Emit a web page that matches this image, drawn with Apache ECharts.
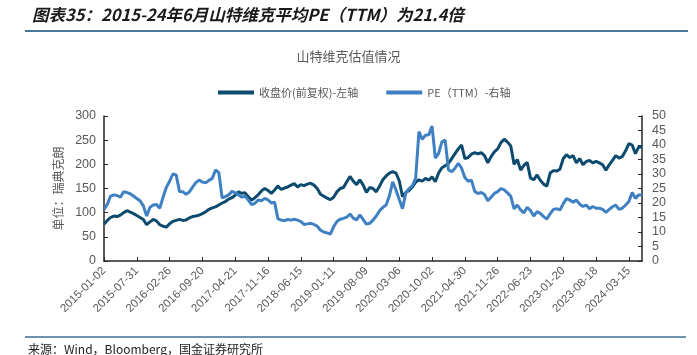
<!DOCTYPE html>
<html>
<head>
<meta charset="utf-8">
<script src="https://cdn.jsdelivr.net/npm/echarts@6/dist/echarts.min.js"></script>
<style>
html,body{margin:0;padding:0;background:#fff;}
#c{width:697px;height:355px;}
</style>
</head>
<body>
<div id="c"></div>
<script>
// Tick labels shown on the x axis (every 10th category, 3-week spacing)
const tickLabels = ['2015-01-02','2015-07-31','2016-02-26','2016-09-20','2017-04-21','2017-11-16','2018-06-15','2019-01-11','2019-08-09','2020-03-06','2020-10-02','2021-04-30','2021-11-26','2022-06-23','2023-01-20','2023-08-18','2024-03-15'];
const extraTail = 4; // points after the last tick label

// 收盘价(前复权) (SEK), left axis
const price = [
  76, 84, 90, 93, 92, 95, 100, 104, 101, 98, 94,
  90, 86, 75, 81, 86, 83, 75, 72, 70, 77,
  82, 84, 86, 84, 85, 89, 92, 93, 95, 98,
  102, 107, 110, 112, 116, 120, 123, 128, 131, 136,
  143, 140, 141, 133, 126, 131, 137, 145, 150, 146,
  140, 147, 155, 148, 151, 153, 157, 160, 153, 158,
  156, 159, 161, 157, 150, 138, 134, 130, 127, 132,
  143, 150, 152, 164, 175, 165, 158, 168, 157, 142,
  152, 150, 143, 155, 168, 176, 182, 185, 182, 166,
  133, 142, 146, 153, 163, 168, 165, 171, 167, 174,
  164, 182, 193, 197, 202, 212, 222, 232, 240, 212,
  214, 221, 224, 222, 224, 218, 203, 216, 226, 232,
  245, 252, 246, 238, 200, 210, 188, 198, 204, 172,
  168, 178, 167, 159, 155, 182, 187, 186, 190, 212,
  220, 214, 218, 203, 212, 199, 206, 208, 203, 206,
  203, 199, 188, 199, 208, 218, 213, 216, 228, 243,
  240, 222, 236, 236
];

// PE (TTM), right axis
const pe = [
  17.8, 19.5, 22.4, 22.8, 22.6, 22, 23.9, 23.6, 23.2, 22.4, 21.5,
  20.8, 19, 15.5, 18.5, 19.3, 19.5, 18.2, 22, 25.4, 27.5,
  30, 29.7, 24, 23.9, 23, 23.8, 25.5, 27, 27.9, 27.2,
  27, 27.8, 28.5, 31.4, 30.5, 21.8, 22.2, 22.8, 24, 23.5,
  22.8, 22, 22.4, 21, 19.4, 19.9, 21, 20.8, 21.6, 21.1,
  20, 20.3, 14.6, 14.1, 13.9, 14.3, 14.1, 14.4, 14.1, 13.6,
  12.6, 12.8, 13, 12.6, 12, 10.6, 10, 9.7, 9.3, 11.8,
  13.6, 14.4, 14.7, 15.1, 16.2, 14.8, 14.2, 15.9, 14.3, 12.7,
  13, 14.1, 15.5, 17.3, 18.5, 19.3, 22.5, 27.3, 24.5, 21.2,
  18, 23.5, 25, 26, 28.5, 44.6, 42, 43.4, 43.5, 46.5,
  35.5, 37.1, 41.1, 41.7, 31.4, 30.8, 32, 33.7, 32, 28.8,
  27.5, 27.9, 24, 23.3, 23.6, 22.9, 20.8, 22, 23.3, 23.9,
  25, 24.5, 23.5, 22.3, 18, 19.3, 17.6, 16.6, 18.5, 17.4,
  15.5, 17, 16.4, 15.3, 14.5, 16.3, 17.8, 18, 17.6, 19.8,
  21.5, 21, 20.3, 21, 19.6, 18.8, 19.3, 18, 18.8, 18.2,
  18.2, 17.8, 16.8, 17.8, 18.7, 19.3, 17.8, 18.2, 19.3, 20.5,
  23.6, 21.6, 22.8, 22.8
];

function addDays(s, d) {
  const p = s.split('-').map(Number);
  const t = new Date(Date.UTC(p[0], p[1] - 1, p[2]) + d * 86400000);
  const mm = String(t.getUTCMonth() + 1).padStart(2, '0');
  const dd = String(t.getUTCDate()).padStart(2, '0');
  return t.getUTCFullYear() + '-' + mm + '-' + dd;
}
const categories = [];
tickLabels.forEach(function (lab, i) {
  categories.push(lab);
  const n = i < tickLabels.length - 1 ? 9 : extraTail;
  for (let j = 1; j <= n; j++) categories.push(addDays(lab, 21 * j));
});

const chart = echarts.init(document.getElementById('c'), null, { renderer: 'canvas' });
const gray = '#595959';
const axisCol = '#262626';
chart.setOption({
  animation: false,
  backgroundColor: '#fff',
  textStyle: { fontFamily: '"Liberation Sans", Arial, "Noto Sans CJK SC", sans-serif' },
  title: {
    text: '山特维克估值情况',
    left: 'center',
    top: 45,
    textStyle: { fontSize: 13, fontWeight: 'normal', color: gray, fontFamily: '"Noto Sans CJK SC", sans-serif' }
  },
  legend: {
    left: 213,
    top: 82,
    icon: 'rect',
    itemWidth: 36,
    itemHeight: 4,
    itemGap: 28,
    textStyle: { fontSize: 11, color: gray, fontFamily: '"Noto Sans CJK SC", sans-serif' },
    data: ['收盘价(前复权)-左轴', 'PE（TTM）-右轴']
  },
  grid: { left: 104, right: 55, top: 116, bottom: 94, containLabel: false },
  xAxis: {
    type: 'category',
    data: categories,
    boundaryGap: false,
    axisLine: { lineStyle: { color: axisCol, width: 1.5 } },
    axisTick: { inside: true, length: 4, interval: 9, lineStyle: { color: axisCol } },
    axisLabel: { interval: 9, rotate: 45, fontSize: 11.5, color: gray, margin: 8 },
    splitLine: { show: false }
  },
  yAxis: [
    {
      type: 'value', min: 0, max: 300, interval: 50,
      name: '单位：瑞典克朗',
      nameLocation: 'middle',
      nameRotate: 90,
      nameGap: 38,
      nameTextStyle: { fontSize: 12, color: gray, fontFamily: '"Noto Sans CJK SC", sans-serif' },
      axisLine: { show: true, lineStyle: { color: axisCol, width: 1.5 } },
      axisTick: { show: true, inside: true, length: 4, lineStyle: { color: axisCol } },
      axisLabel: { fontSize: 12.5, color: gray, margin: 8 },
      splitLine: { show: false }
    },
    {
      type: 'value', min: 0, max: 50, interval: 5,
      position: 'right',
      axisLine: { show: true, lineStyle: { color: axisCol, width: 1.5 } },
      axisTick: { show: true, inside: true, length: 4, lineStyle: { color: axisCol } },
      axisLabel: { fontSize: 12.5, color: gray, margin: 10 },
      splitLine: { show: false }
    }
  ],
  series: [
    {
      name: '收盘价(前复权)-左轴', type: 'line', yAxisIndex: 0, data: price,
      showSymbol: false, symbol: 'none',
      lineStyle: { width: 3, color: '#0c4a6e' }, itemStyle: { color: '#0c4a6e' }
    },
    {
      name: 'PE（TTM）-右轴', type: 'line', yAxisIndex: 1, data: pe,
      showSymbol: false, symbol: 'none',
      lineStyle: { width: 3, color: '#3f80c2' }, itemStyle: { color: '#3f80c2' }
    }
  ],
  graphic: [
    {
      type: 'text', left: 32, top: 6,
      style: {
        text: '图表35：2015-24年6月山特维克平均PE（TTM）为21.4倍',
        fontSize: 16.5, fontWeight: 'bold', fontStyle: 'italic',
        fontFamily: '"Noto Sans CJK SC", sans-serif', fill: '#1a1a1a'
      }
    },
    { type: 'line', shape: { x1: 25, y1: 31, x2: 688, y2: 31 }, style: { stroke: '#4a7697', lineWidth: 2 } },
    { type: 'line', shape: { x1: 25, y1: 337, x2: 686, y2: 337 }, style: { stroke: '#3e6f94', lineWidth: 1.5 } },
    {
      type: 'text', left: 28, top: 343,
      style: {
        text: '来源：Wind，Bloomberg，国金证券研究所',
        fontSize: 12, fontFamily: '"Noto Sans CJK SC", sans-serif', fill: '#222'
      }
    }
  ]
});
</script>
</body>
</html>
